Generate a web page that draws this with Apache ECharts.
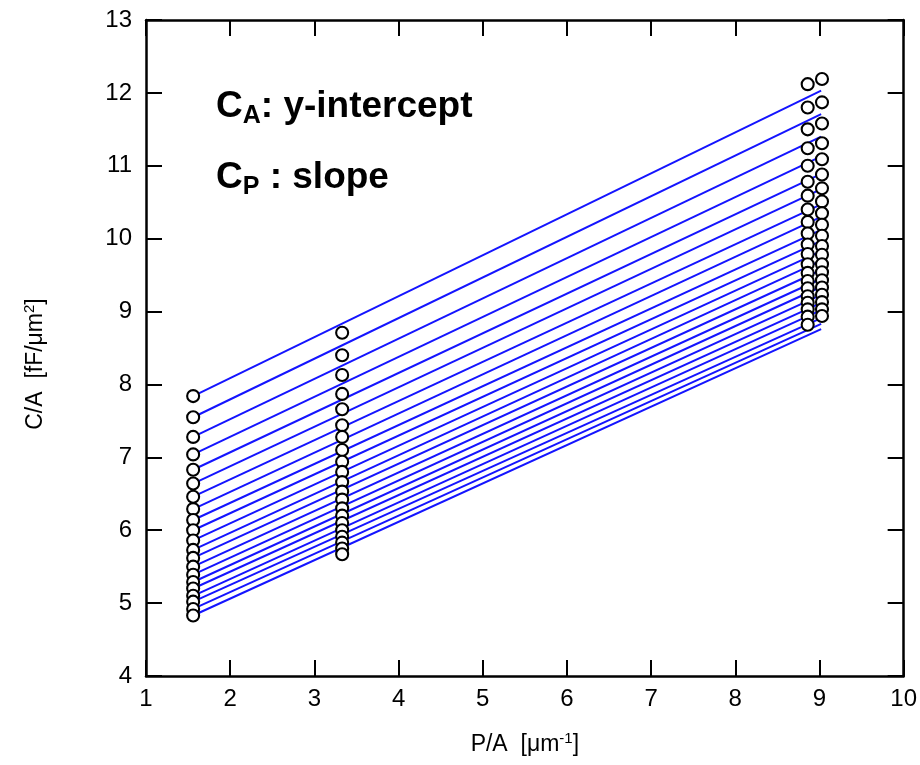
<!DOCTYPE html>
<html>
<head>
<meta charset="utf-8">
<script src="https://cdn.jsdelivr.net/npm/echarts@6/dist/echarts.min.js"></script>
<style>
  html, body { margin: 0; padding: 0; background: #fff; }
  #main { width: 920px; height: 765px; }
</style>
</head>
<body>
<div id="main"></div>
<script>
// P/A of the four measured structures
const xPos = [1.56, 3.33, 8.86, 9.03];

const cAt1 = [7.84, 7.55, 7.28, 7.04, 6.83, 6.64, 6.46, 6.29, 6.14, 6.00, 5.86, 5.73, 5.62, 5.50, 5.39, 5.29, 5.20, 5.10, 5.02, 4.92, 4.83];
const cAt2 = [8.71, 8.40, 8.13, 7.87, 7.66, 7.44, 7.28, 7.10, 6.94, 6.80, 6.66, 6.53, 6.42, 6.30, 6.20, 6.10, 6.00, 5.91, 5.83, 5.75, 5.67];
const cAt3 = [12.12, 11.80, 11.50, 11.24, 11.00, 10.78, 10.59, 10.40, 10.23, 10.07, 9.92, 9.79, 9.65, 9.53, 9.42, 9.32, 9.21, 9.12, 9.03, 8.93, 8.82];
const cAt4 = [12.19, 11.87, 11.58, 11.31, 11.09, 10.88, 10.69, 10.51, 10.35, 10.19, 10.04, 9.90, 9.78, 9.65, 9.54, 9.43, 9.33, 9.23, 9.13, 9.03, 8.94];

// fitted lines: ends at x = fitX[0] and fitX[1]
const fitX = [1.56, 9.02];
const fitStart = [7.84, 7.55, 7.28, 7.04, 6.83, 6.64, 6.46, 6.29, 6.14, 6.00, 5.86, 5.73, 5.62, 5.50, 5.39, 5.29, 5.20, 5.10, 5.02, 4.92, 4.83];
const fitEnd = [12.03, 11.71, 11.40, 11.13, 10.89, 10.68, 10.47, 10.30, 10.12, 9.97, 9.83, 9.70, 9.57, 9.45, 9.34, 9.23, 9.12, 9.02, 8.91, 8.83, 8.76];

const font = 'Liberation Sans, Arial, sans-serif';
const chart = echarts.init(document.getElementById('main'));

const series = [];
fitStart.forEach((s, i) => {
  series.push({
    type: 'line',
    data: [[fitX[0], s], [fitX[1], fitEnd[i]]],
    symbol: 'none',
    silent: true,
    lineStyle: { color: '#1414ff', width: 2 },
    z: 2
  });
});
[cAt1, cAt2, cAt3, cAt4].forEach((ys, k) => {
  series.push({
    type: 'scatter',
    data: ys.map(y => [xPos[k], y]),
    symbol: 'circle',
    symbolSize: 12,
    itemStyle: { color: '#fff', borderColor: '#000', borderWidth: 2.1, opacity: 1 },
    emphasis: { disabled: true },
    z: 3
  });
});

const axisLine = { onZero: false, lineStyle: { color: '#000', width: 2.5 } };
const axisTick = { inside: true, length: 16, lineStyle: { color: '#000', width: 2 } };
const nameRich = {
  n: { fontSize: 23, fontFamily: font, color: '#000', lineHeight: 28 },
  sup: { fontSize: 15, fontFamily: font, color: '#000', lineHeight: 15, verticalAlign: 'top' }
};

const option = {
  animation: false,
  backgroundColor: '#fff',
  grid: { left: 146, right: 16, top: 20, bottom: 89 },
  xAxis: [
    {
      type: 'value', min: 1, max: 10, interval: 1, position: 'bottom',
      axisLine, axisTick, splitLine: { show: false },
      axisLabel: { fontSize: 24, color: '#000', margin: 11, fontFamily: font },
      name: '{n|P/A  [μm}{sup|-1}{n|]}',
      nameLocation: 'middle', nameGap: 55,
      nameTextStyle: { rich: nameRich }
    },
    {
      type: 'value', min: 1, max: 10, interval: 1, position: 'top',
      axisLine, axisTick, splitLine: { show: false }, axisLabel: { show: false }
    }
  ],
  yAxis: [
    {
      type: 'value', min: 4, max: 13, interval: 1, position: 'left',
      axisLine, axisTick, splitLine: { show: false },
      axisLabel: { fontSize: 24, color: '#000', margin: 14, fontFamily: font },
      name: '{n|C/A  [fF/μm}{sup|2}{n|]}',
      nameLocation: 'middle', nameGap: 96, nameRotate: 90,
      nameTextStyle: { rich: nameRich, padding: [0, 32, 0, 0] }
    },
    {
      type: 'value', min: 4, max: 13, interval: 1, position: 'right',
      axisLine, axisTick, splitLine: { show: false }, axisLabel: { show: false }
    }
  ],
  graphic: [
    {
      type: 'text', left: 216, top: 88, z: 10,
      style: {
        text: '{b|C}{s|A}{b|: y-intercept}',
        rich: {
          b: { fontSize: 37, fontWeight: 'bold', fontFamily: font, fill: '#000', lineHeight: 44 },
          s: { fontSize: 25, fontWeight: 'bold', fontFamily: font, fill: '#000', lineHeight: 20, verticalAlign: 'bottom' }
        }
      }
    },
    {
      type: 'text', left: 216, top: 159, z: 10,
      style: {
        text: '{b|C}{s|P}{b| : slope}',
        rich: {
          b: { fontSize: 37, fontWeight: 'bold', fontFamily: font, fill: '#000', lineHeight: 44 },
          s: { fontSize: 25, fontWeight: 'bold', fontFamily: font, fill: '#000', lineHeight: 20, verticalAlign: 'bottom' }
        }
      }
    }
  ],
  series
};

chart.setOption(option);
</script>
</body>
</html>
